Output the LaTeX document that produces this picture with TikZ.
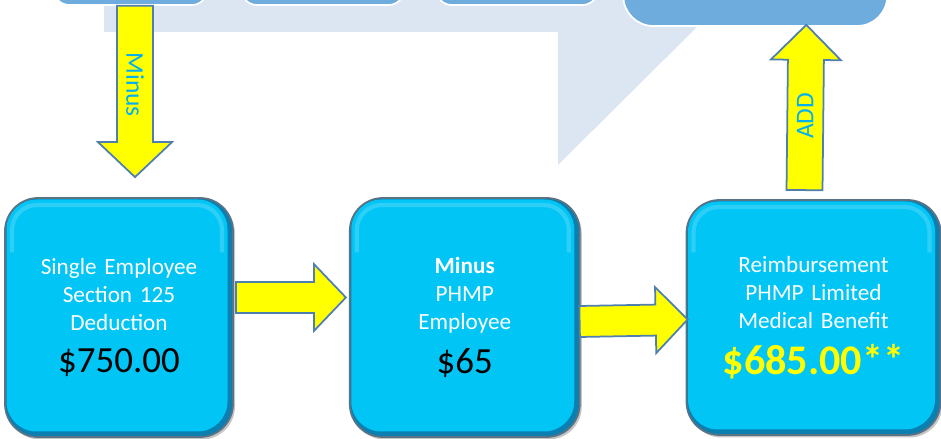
\documentclass[tikz,border=0pt]{standalone}
\usepackage{fontspec}
\setmainfont{Carlito}
\usepackage{xcolor}
\usepackage{tikz}
\usetikzlibrary{arrows.meta,positioning,calc,shadows}
\definecolor{benCyan}{HTML}{00C5F5}
\definecolor{benDeep}{HTML}{0A7FB0}
\definecolor{benSky}{HTML}{6EACDD}
\definecolor{benMist}{HTML}{DCE5F2}
\definecolor{benYellow}{HTML}{FFFF00}
\definecolor{benSteel}{HTML}{4F7FAF}
\definecolor{benSlate}{HTML}{5B7384}
\definecolor{benLabel}{HTML}{00B0F0}
\tikzset{
  benbox/.style={rectangle,draw=benSlate,line width=1pt,fill=benDeep,rounded corners=0.66cm,
    minimum width=4.56cm,minimum height=4.78cm,text width=4.2cm,align=center,text=white,
    font=\fontsize{13.2}{16}\selectfont,
    drop shadow={opacity=0.45,shadow xshift=0.04cm,shadow yshift=-0.05cm},
    path picture={
      \fill[benCyan,rounded corners=0.6cm]
        ($(path picture bounding box.south west)+(0.03,0.11)$) rectangle
        ($(path picture bounding box.north east)+(-0.11,-0.03)$);
      \draw[white,opacity=0.18,line width=2.4pt,rounded corners=0.5cm]
        ($(path picture bounding box.west)+(0.14,1.3)$) |-
        ($(path picture bounding box.north)+(0,-0.14)$) -|
        ($(path picture bounding box.east)+(-0.22,1.3)$);
    }},
  topbox/.style={rectangle,draw=white,line width=1pt,fill=benSky,rounded corners=0.3cm,
    minimum height=1.2cm},
  yellowshaft/.style={draw=benSteel,fill=benYellow,line width=1pt,line join=miter},
  arrowlabel/.style={text=benLabel,inner sep=0pt,font=\fontsize{14.5}{16}\selectfont}
}
\newcommand{\bigamount}[2]{{\fontsize{#1}{#1}\selectfont #2}}
% from, tip, shaft half width, head half width, head length
\newcommand{\blockarrow}[5]{%
  \path ($(#2)!#5!(#1)$) coordinate (headbase);
  \draw[yellowshaft] ($(#1)!#3!90:(#2)$) -- ($(headbase)!#3!-90:(#1)$)
    -- ($(headbase)!#4!-90:(#1)$) -- (#2) -- ($(headbase)!#4!90:(#1)$)
    -- ($(headbase)!#3!90:(#1)$) -- ($(#1)!#3!-90:(#2)$) -- cycle;}
\begin{document}
\begin{tikzpicture}[node distance=0.66cm and 2.3cm]
  \useasboundingbox (0,0) rectangle (18.82,8.78);
  \clip (0,0) rectangle (18.82,8.78);
  % pale band behind the top row
  \fill[benMist] (2.08,9.2) -- (2.08,8.14) -- (11.16,8.14) -- (11.16,5.48)
    -- (14.0,8.3) -- (14.0,9.2) -- cycle;
  % top row, cut off by the page edge
  \node[topbox, minimum width=3.06cm] (top1) at (2.61,9.28) {};
  \node[topbox, minimum width=3.24cm, right=0.66cm of top1] (top2) {};
  \node[topbox, minimum width=3.22cm, right=0.62cm of top2] (top3) {};
  \node[topbox, minimum width=5.28cm, minimum height=2.04cm, rounded corners=0.6cm,
    right=0.48cm of top3] (top4) {};
  % bottom row
  \node[benbox] (boxA) at (2.38,2.43)
    {Single Employee\\Section 125\\Deduction\\[8pt]\bigamount{21}{\color{black}\$750.00}};
  \node[benbox, minimum width=4.6cm, right=of boxA] (boxB)
    {\textbf{Minus}\\PHMP\\Employee\\[8pt]\bigamount{21}{\color{black}\$65}};
  \node[benbox, minimum width=5.08cm, minimum height=4.7cm, right=2.1cm of boxB] (boxC)
    {Reimbursement\\PHMP Limited\\Medical Benefit\\[8pt]\bigamount{24}{\color{benYellow}\textbf{\$685.00**}}};
  % arrows
  \coordinate (minusFrom) at ($(top1.south)+(0.09,0)$);
  \coordinate (minusTo) at ($(boxA.north)+(0.32,0.4)$);
  \blockarrow{minusFrom}{minusTo}{0.36cm}{0.74cm}{0.7cm}
  \node[arrowlabel, rotate=-90] at ($(minusFrom)!0.46!(minusTo)$) {Minus};
  \coordinate (abFrom) at ($(boxA.east)+(0.04,0.4)$);
  \coordinate (abTo) at ($(boxB.west)+(-0.06,0.4)$);
  \blockarrow{abFrom}{abTo}{0.31cm}{0.67cm}{0.64cm}
  \coordinate (bcFrom) at ($(boxB.east)+(-0.02,-0.08)$);
  \coordinate (bcTo) at ($(boxC.west)+(0.04,-0.04)$);
  \blockarrow{bcFrom}{bcTo}{0.31cm}{0.66cm}{0.64cm}
  \coordinate (addFrom) at ($(boxC.north)+(-0.18,0.18)$);
  \coordinate (addTo) at ($(top4.south)+(1.02,0.04)$);
  \blockarrow{addFrom}{addTo}{0.36cm}{0.7cm}{0.7cm}
  \node[arrowlabel, rotate=90] at ($(addFrom)!0.45!(addTo)$) {ADD};
\end{tikzpicture}
\end{document}
